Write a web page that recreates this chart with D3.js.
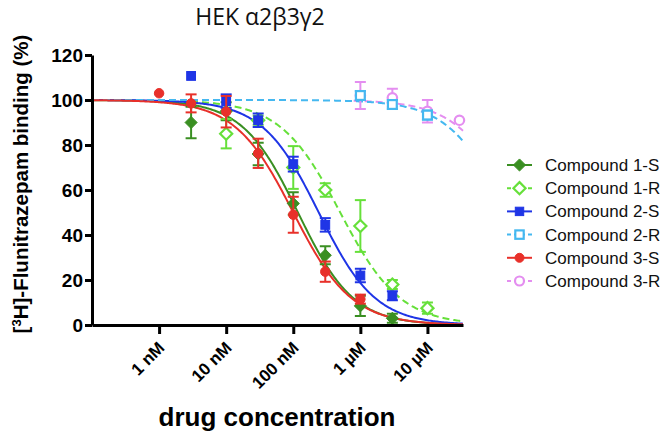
<!DOCTYPE html>
<html>
<head>
<meta charset="utf-8">
<script src="https://cdn.jsdelivr.net/npm/d3@7"></script>
<style>
  html, body { margin: 0; padding: 0; background: #fff; }
  svg { display: block; }
</style>
</head>
<body>
<svg id="chart" width="666" height="438"></svg>
<script>
// ---------------- data ----------------
const seriesNames = ["Compound 1-S", "Compound 1-R", "Compound 2-S", "Compound 2-R", "Compound 3-S", "Compound 3-R"];
const seriesColors = ["#3a8f22", "#66e03a", "#1f35e6", "#45b8f0", "#e8302a", "#e48ef0"];
const seriesMarkers = ["diamond", "diamond", "square", "square", "circle", "circle"];
const seriesFilled = [true, false, true, false, true, false];
const seriesDashed = [false, true, false, true, false, true];

// concentrations (M)
const conc = [1e-9, 3e-9, 1e-8, 3e-8, 1e-7, 3e-7, 1e-6, 3e-6, 1e-5, 3e-5];

// mean binding (%) per concentration (null = not measured / not visible)
const c1S = [null, 90, 95, 76, 54, 31, 8.5, 3, null, null];
const c1R = [null, null, 85, 91, 70, 60, 44, 18, 7.5, null];
const c2S = [null, 110.7, 99.5, 91, 71.5, 44.5, 22, 13, null, null];
const c2R = [null, null, null, null, null, null, 102, 98, 93.3, null];
const c3S = [103, 98.5, 94.8, 76.3, 49, 23.7, 11.5, null, null, null];
const c3R = [null, null, null, null, null, null, 102, 101, 95, 91];

// error (SEM) per concentration
const e1S = [0, 7, 4, 5, 5, 4, 4.5, 2, 0, 0];
const e1R = [0, 0, 6.5, 2, 9.5, 3, 11.5, 2, 2.5, 0];
const e2S = [0, 0, 3, 3, 3.3, 3, 3, 2, 0, 0];
const e2R = [0, 0, 0, 0, 0, 0, 2, 2, 2, 0];
const e3S = [0, 4, 7, 6.5, 8, 4.5, 2, 0, 0, 0];
const e3R = [0, 0, 0, 0, 0, 0, 6, 4, 5, 0];

// fitted one-site competition curves: log IC50, Hill slope, top, bottom, fit range (log M)
const fitLogIC50 = [-6.93, -6.30, -6.62, -3.82, -7.0, -3.67];
const fitHill = [1.05, 0.97, 1.03, 1.0, 1.0, 1.0];
const fitTop = [100, 100, 100, 100, 100, 100];
const fitBottom = [0, 0, 0, 0, 0, 0];
const fitFrom = [-10, -10, -10, -10, -10, -6.1];

const xTickValues = [-9, -8, -7, -6, -5];
const xTickLabels = ["1 nM", "10 nM", "100 nM", "1 µM", "10 µM"];
const yTickValues = [0, 20, 40, 60, 80, 100, 120];

const means = [c1S, c1R, c2S, c2R, c3S, c3R];
const errs = [e1S, e1R, e2S, e2R, e3S, e3R];

// ---------------- chart ----------------
const svg = d3.select("#chart");
const X0 = 92, X1 = 463, Y0 = 325, Y1 = 55;
const xDomainMax = -4.47;
const x = d3.scaleLinear().domain([-10, xDomainMax]).range([X0, X1]);
const y = d3.scaleLinear().domain([0, 120]).range([Y0, Y1]);

// title
svg.append("text")
  .attr("x", 260).attr("y", 25)
  .attr("text-anchor", "middle")
  .attr("font-family", "'Open Sans', 'Liberation Sans', sans-serif")
  .attr("font-size", 23)
  .attr("fill", "#111")
  .text("HEK α2β3γ2");

// curves
const order = [5, 0, 1, 2, 3, 4];
const curveG = svg.append("g");
order.forEach(i => {
  const pts = d3.range(0, 301).map(k => {
    const lx = fitFrom[i] + (xDomainMax - fitFrom[i]) * k / 300;
    const v = fitBottom[i] + (fitTop[i] - fitBottom[i]) / (1 + Math.pow(10, (lx - fitLogIC50[i]) * fitHill[i]));
    return [lx, v];
  });
  curveG.append("path")
    .attr("d", d3.line().x(d => x(d[0])).y(d => y(d[1]))(pts))
    .attr("fill", "none")
    .attr("stroke", seriesColors[i])
    .attr("stroke-width", 2)
    .attr("stroke-dasharray", seriesDashed[i] ? "7,4" : null);
});

// symbols
function drawMarker(g, type, cx, cy, color, filled, size) {
  let el;
  if (type === "diamond") {
    const s = size * 0.55;
    el = g.append("path").attr("d", `M${cx},${cy - s}L${cx + s},${cy}L${cx},${cy + s}L${cx - s},${cy}Z`);
  } else if (type === "square") {
    const s = size * 0.42;
    el = g.append("rect").attr("x", cx - s).attr("y", cy - s).attr("width", 2 * s).attr("height", 2 * s);
  } else {
    el = g.append("circle").attr("cx", cx).attr("cy", cy).attr("r", size * 0.45);
  }
  if (filled) el.attr("fill", color).attr("stroke", color).attr("stroke-width", 1);
  else el.attr("fill", "#fff").attr("stroke", color).attr("stroke-width", 2.2);
  return el;
}

const ptG = svg.append("g");
order.forEach(i => {
  const g = ptG.append("g");
  means[i].forEach((m, j) => {
    if (m === null) return;
    const cx = x(Math.log10(conc[j]));
    const cy = y(m);
    const e = errs[i][j];
    if (e > 0) {
      const yt = y(m + e), yb = y(m - e);
      g.append("line").attr("x1", cx).attr("x2", cx).attr("y1", yt).attr("y2", yb)
        .attr("stroke", seriesColors[i]).attr("stroke-width", 2);
      [yt, yb].forEach(yy => g.append("line")
        .attr("x1", cx - 5.5).attr("x2", cx + 5.5).attr("y1", yy).attr("y2", yy)
        .attr("stroke", seriesColors[i]).attr("stroke-width", 2));
    }
    drawMarker(g, seriesMarkers[i], cx, cy, seriesColors[i], seriesFilled[i], seriesMarkers[i] === "diamond" ? 11 : 10.5);
  });
});

// axes
const yAxis = d3.axisLeft(y).tickValues(yTickValues).tickSize(7).tickSizeOuter(0).tickPadding(2);
const yG = svg.append("g").attr("transform", `translate(${X0},0)`).call(yAxis);
yG.select(".domain").attr("stroke", "#000").attr("stroke-width", 3);
yG.selectAll(".tick line").attr("stroke", "#000").attr("stroke-width", 3);
yG.selectAll(".tick text")
  .attr("font-family", "'Liberation Sans', Arial, sans-serif")
  .attr("font-weight", "bold").attr("font-size", 19).attr("fill", "#000");

const xAxis = d3.axisBottom(x).tickValues(xTickValues).tickSize(9).tickSizeOuter(0)
  .tickFormat((d, k) => xTickLabels[k]);
const xG = svg.append("g").attr("transform", `translate(0,${Y0})`).call(xAxis);
xG.select(".domain").attr("stroke", "#000").attr("stroke-width", 3);
xG.selectAll(".tick line").attr("stroke", "#000").attr("stroke-width", 3);
xG.selectAll(".tick text")
  .attr("font-family", "'Liberation Sans', Arial, sans-serif")
  .attr("font-weight", "bold").attr("font-size", 17).attr("fill", "#000")
  .attr("text-anchor", "end")
  .attr("dy", null)
  .attr("y", 0)
  .attr("transform", "translate(6,24) rotate(-45)");

// axis titles
svg.append("text")
  .attr("x", 277).attr("y", 426)
  .attr("text-anchor", "middle")
  .attr("font-family", "'Liberation Sans', Arial, sans-serif")
  .attr("font-weight", "bold").attr("font-size", 26).attr("fill", "#000")
  .text("drug concentration");

const yl = svg.append("text")
  .attr("transform", "translate(28,184) rotate(-90)")
  .attr("text-anchor", "middle")
  .attr("font-family", "'Liberation Sans', Arial, sans-serif")
  .attr("font-weight", "bold").attr("font-size", 20.5).attr("fill", "#000");
yl.append("tspan").text("[");
yl.append("tspan").attr("font-size", 13).attr("dy", -7).text("3");
yl.append("tspan").attr("dy", 7).text("H]-Flunitrazepam binding (%)");

// legend
const lg = svg.append("g");
seriesNames.forEach((name, i) => {
  const ly = 165 + i * 23.2;
  lg.append("line").attr("x1", 507).attr("x2", 532).attr("y1", ly).attr("y2", ly)
    .attr("stroke", seriesColors[i]).attr("stroke-width", 2)
    .attr("stroke-dasharray", seriesDashed[i] ? "4,3" : null);
  drawMarker(lg, seriesMarkers[i], 519.5, ly, seriesColors[i], seriesFilled[i], seriesMarkers[i] === "diamond" ? 11 : 10);
  lg.append("text").attr("x", 545).attr("y", ly).attr("dy", "0.35em")
    .attr("font-family", "'Liberation Sans', Arial, sans-serif")
    .attr("font-size", 17).attr("fill", "#111").text(name);
});
</script>
</body>
</html>
